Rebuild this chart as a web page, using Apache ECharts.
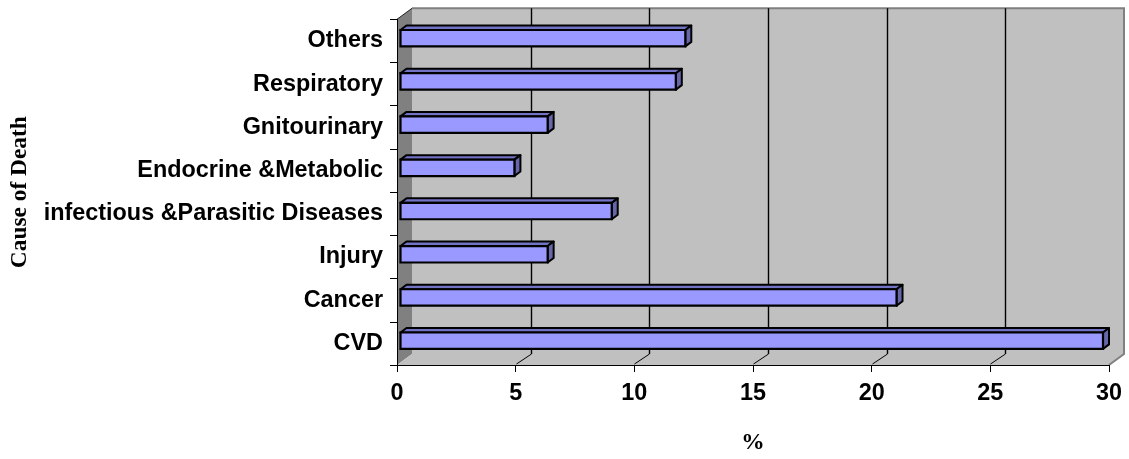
<!DOCTYPE html>
<html>
<head>
<meta charset="utf-8">
<script src="https://cdn.jsdelivr.net/npm/echarts@6/dist/echarts.min.js"></script>
<style>
  html, body { margin: 0; padding: 0; background: #ffffff; }
  #chart { width: 1129px; height: 459px; }
</style>
</head>
<body>
<div id="chart"></div>
<script>
// Causes of death, share in percent (bottom to top on the category axis)
const categories = [
  'CVD',
  'Cancer',
  'Injury',
  'infectious &Parasitic Diseases',
  'Endocrine &Metabolic',
  'Gnitourinary',
  'Respiratory',
  'Others'
];
const shares = [29.6, 20.9, 6.2, 8.9, 4.8, 6.2, 11.6, 12.0];

// value axis ticks and the gridlines drawn on the back wall
const valueMin = 0;
const valueMax = 30;
const valueStep = 5;
const wallGridValues = [5, 10, 15, 20, 25];

const xTitle = '%';
const yTitle = 'Cause of Death';

// 3-D look: depth of the box (walls) and of each bar
const WALL_DX = 15, WALL_DY = -11;
const BAR_FX = 3.5, BAR_FY = -2.7;   // front face offset inside the box
const BAR_DX = 6, BAR_DY = -4.5;     // bar depth

const SANS = "'Liberation Sans', Arial, sans-serif";
const SERIF = "'Liberation Serif', 'Times New Roman', serif";
const FONT_SIZE = 23.4;

function renderWalls(params, api) {
  const cs = params.coordSys;
  const x0 = cs.x, x1 = cs.x + cs.width;
  const y0 = cs.y, y1 = cs.y + cs.height;
  return {
    type: 'group',
    children: [
      { type: 'rect',
        shape: { x: x0 + WALL_DX, y: y0 + WALL_DY, width: cs.width, height: cs.height },
        style: { fill: '#C0C0C0' } },
      { type: 'polygon',
        shape: { points: [[x0, y0], [x0 + WALL_DX, y0 + WALL_DY], [x0 + WALL_DX, y1 + WALL_DY], [x0, y1]] },
        style: { fill: '#808080' } },
      { type: 'polygon',
        shape: { points: [[x0, y1], [x0 + WALL_DX, y1 + WALL_DY], [x1 + WALL_DX, y1 + WALL_DY], [x1, y1]] },
        style: { fill: '#C0C0C0' } },
      { type: 'polyline',
        shape: { points: [[x0 + WALL_DX, y0 + WALL_DY], [x1 + WALL_DX, y0 + WALL_DY], [x1 + WALL_DX, y1 + WALL_DY], [x1, y1]] },
        style: { stroke: '#808080', lineWidth: 2, fill: null } },
      { type: 'line',
        shape: { x1: x0, y1: y0, x2: x0 + WALL_DX, y2: y0 + WALL_DY },
        style: { stroke: '#222222', lineWidth: 1 } }
    ]
  };
}

function renderWallGrid(params, api) {
  const cs = params.coordSys;
  const p = api.coord([api.value(0), 0]);
  const x = Math.round(p[0]) + 0.5;
  const y0 = cs.y, y1 = cs.y + cs.height;
  return {
    type: 'group',
    children: [
      { type: 'line',
        shape: { x1: x + WALL_DX, y1: y0 + WALL_DY, x2: x + WALL_DX, y2: y1 + WALL_DY },
        style: { stroke: '#000000', lineWidth: 1.4 } },
      { type: 'line',
        shape: { x1: x, y1: y1 - 1, x2: x + WALL_DX, y2: y1 + WALL_DY },
        style: { stroke: '#000000', lineWidth: 1 } }
    ]
  };
}

function renderBar(params, api) {
  const v = api.value(0);
  const c = api.value(1);
  const base = api.coord([0, c]);
  const end = api.coord([v, c]);
  const band = api.size([0, 1])[1];
  const h = band * 0.38;
  const left = base[0] + BAR_FX;
  const right = end[0] + BAR_FX;
  const top = base[1] + BAR_FY - h / 2;
  const bottom = top + h;
  const edge = { stroke: '#000000', lineWidth: 2, lineJoin: 'round' };
  return {
    type: 'group',
    children: [
      { type: 'polygon',
        shape: { points: [[left, top], [left + BAR_DX, top + BAR_DY], [right + BAR_DX, top + BAR_DY], [right, top]] },
        style: Object.assign({ fill: '#7373C6' }, edge) },
      { type: 'polygon',
        shape: { points: [[right, top], [right + BAR_DX, top + BAR_DY], [right + BAR_DX, bottom + BAR_DY], [right, bottom]] },
        style: Object.assign({ fill: '#6666A8' }, edge) },
      { type: 'rect',
        shape: { x: left, y: top, width: right - left, height: h },
        style: { fill: '#9999FF', stroke: '#000000', lineWidth: 2.2 } }
    ]
  };
}

const chart = echarts.init(document.getElementById('chart'), null, { renderer: 'canvas' });

chart.setOption({
  animation: false,
  backgroundColor: '#ffffff',
  grid: { left: 394, right: 20, top: 19.3, bottom: 94, containLabel: false },
  xAxis: {
    type: 'value',
    min: valueMin,
    max: valueMax,
    interval: valueStep,
    z: 10,
    name: xTitle,
    nameLocation: 'middle',
    nameGap: 66,
    nameTextStyle: { fontFamily: SERIF, fontWeight: 'bold', fontSize: FONT_SIZE, color: '#000' },
    axisLine: { show: true, lineStyle: { color: '#000', width: 1 } },
    axisTick: { show: true, length: 7, lineStyle: { color: '#000', width: 1 } },
    axisLabel: { margin: 17, fontFamily: SANS, fontWeight: 'bold', fontSize: FONT_SIZE, color: '#000' },
    splitLine: { show: false }
  },
  yAxis: {
    type: 'category',
    data: categories,
    z: 10,
    name: yTitle,
    nameLocation: 'middle',
    nameRotate: 90,
    nameGap: 366,
    nameTextStyle: { fontFamily: SERIF, fontWeight: 'bold', fontSize: FONT_SIZE, color: '#000' },
    axisLine: { show: true, lineStyle: { color: '#000', width: 1 } },
    axisTick: { show: true, length: 7, lineStyle: { color: '#000', width: 1 } },
    axisLabel: { margin: 14, fontFamily: SANS, fontWeight: 'bold', fontSize: FONT_SIZE, color: '#000' },
    splitLine: { show: false }
  },
  series: [
    {
      type: 'custom',
      name: 'walls',
      renderItem: renderWalls,
      data: [[valueMin, 0]],
      encode: { x: 0, y: 1 },
      silent: true,
      z: 1
    },
    {
      type: 'custom',
      name: 'wall grid',
      renderItem: renderWallGrid,
      data: wallGridValues.map(v => [v, 0]),
      encode: { x: 0, y: 1 },
      silent: true,
      z: 2
    },
    {
      type: 'custom',
      name: 'Share of deaths',
      renderItem: renderBar,
      data: shares.map((v, i) => [v, i]),
      encode: { x: 0, y: 1 },
      z: 3
    }
  ]
});
</script>
</body>
</html>
